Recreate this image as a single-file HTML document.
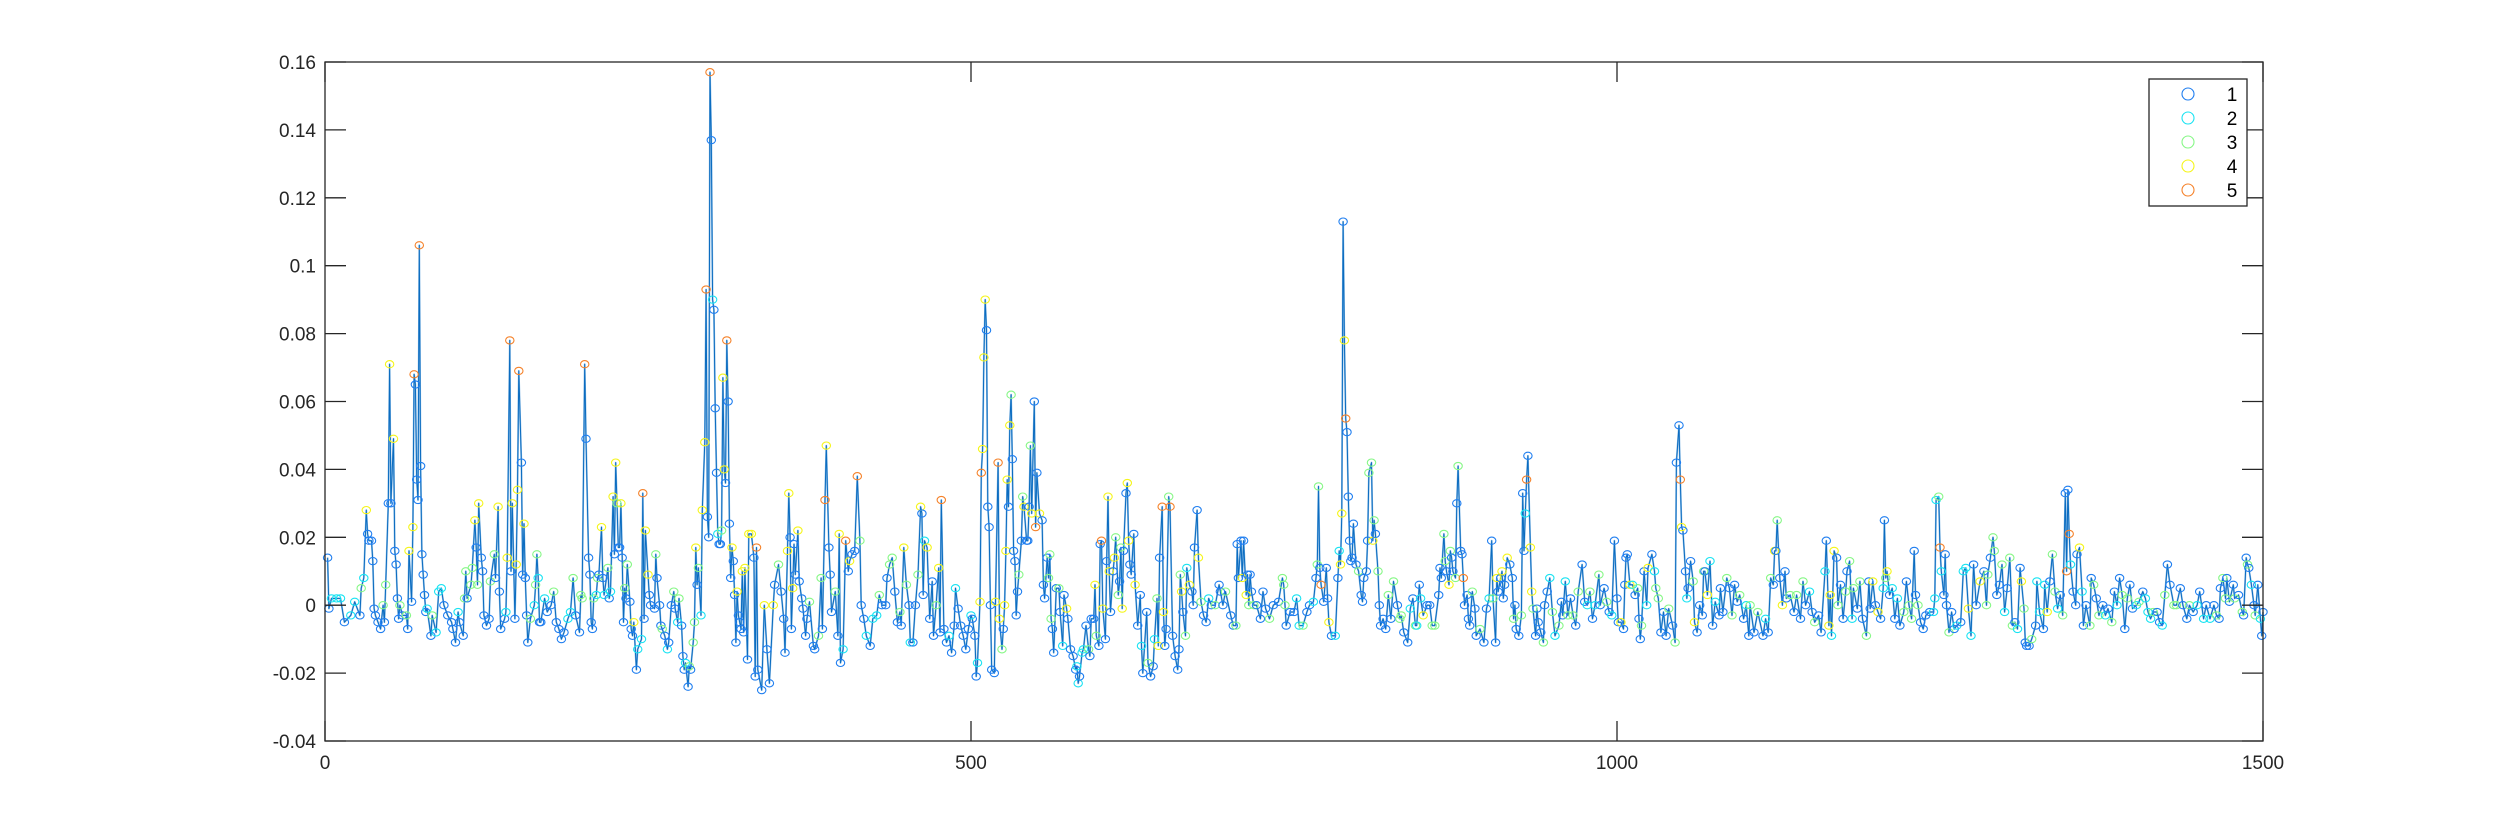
<!DOCTYPE html>
<html><head><meta charset="utf-8">
<style>
html,body{margin:0;padding:0;background:#fff;}
svg{display:block;font-family:"Liberation Sans",sans-serif;}
</style></head>
<body>
<svg id="chart" width="2500" height="833" viewBox="0 0 2500 833" xmlns="http://www.w3.org/2000/svg">
<rect x="0" y="0" width="2500" height="833" fill="#fff"/>
<g id="series"></g>
<g id="axes"></g>
<g id="legend"></g>
</svg>
<script>
const xTickValues = [0, 500, 1000, 1500];
const xTickLabels = ["0", "500", "1000", "1500"];
const yTickValues = [-0.04, -0.02, 0, 0.02, 0.04, 0.06, 0.08, 0.1, 0.12, 0.14, 0.16];
const yTickLabels = ["-0.04", "-0.02", "0", "0.02", "0.04", "0.06", "0.08", "0.1", "0.12", "0.14", "0.16"];
const legendLabels = ["1", "2", "3", "4", "5"];

const sampleIndex = [
2,3,5,9,12,15,20,23,27,28,30,32,33,34,36,37,38,39,41,43,45,46,47,49,50,51,53,54,55,56,57,58,60,63,64,65,67,68,69,70,71,72,73,74,75,76,77,78,79,82,83,86,88,90,92,95,98,99,101,103,104,107,108,109,110,113,114,116,117,118,119,121,122,123,125,127,128,131,132,134,135,136,139,140,141,143,144,145,147,148,149,150,152,153,154,155,156,157,159,162,163,164,165,166,167,170,172,175,177,179,181,183,185,188,190,192,194,197,198,199,201,202,204,205,206,207,208,210,211,212,214,215,216,219,220,221,223,224,225,226,227,228,229,230,231,232,233,234,236,237,238,239,241,242,245,246,247,248,250,251,252,255,256,257,259,260,261,263,265,266,268,270,271,273,274,276,277,278,279,281,282,283,285,286,287,288,289,291,292,294,295,296,297,298,299,300,301,302,303,304,305,306,307,308,309,310,311,312,313,314,315,316,317,318,319,320,321,322,323,324,325,327,328,
330,332,333,334,335,338,340,342,344,347,348,351,353,355,356,358,359,360,361,362,363,364,366,367,369,370,372,373,375,378,379,382,384,385,387,388,390,391,392,395,397,398,399,401,403,405,406,408,410,412,414,415,417,419,422,424,427,429,431,434,435,437,439,441,443,445,446,448,450,452,453,455,457,459,461,462,463,464,466,468,470,471,473,475,476,477,479,481,483,485,487,488,490,492,494,496,498,500,501,503,504,505,507,508,509,510,511,512,513,514,515,516,518,519,521,522,524,525,526,527,528,529,530,531,532,533,534,535,536,537,539,540,541,543,544,545,546,547,549,550,551,553,555,556,557,559,560,561,562,563,564,566,568,569,571,572,574,575,577,579,581,582,583,584,586,587,589,591,592,593,595,596,597,599,600,601,602,604,605,606,607,608,610,611,612,614,615,616,617,618,620,621,622,623,624,626,627,629,631,632,633,636,637,639,641,642,644,645,646,648,649,650,651,653,654,656,658,660,661,662,663,664,666,667,669,671,672,673,675,676,678,680,682,684,686,689,692,693,695,697,701,703,705,706,707,709,710,711,713,714,715,
716,717,719,721,724,726,728,731,734,738,741,742,743,744,747,750,752,754,757,760,762,765,767,768,769,770,771,773,775,776,777,779,782,784,785,786,787,788,789,790,791,792,793,794,795,796,798,800,802,803,804,806,807,808,810,811,812,813,815,816,817,819,821,823,825,827,830,832,833,835,838,840,842,844,845,847,848,850,853,855,857,859,862,863,864,866,867,868,870,871,872,873,875,876,877,879,880,881,882,884,885,886,888,890,891,894,897,899,901,903,904,906,907,908,910,911,912,913,915,917,919,920,921,922,924,926,927,928,929,930,931,933,934,935,937,938,939,941,943,944,946,948,950,952,955,957,958,960,962,964,966,968,970,973,975,977,979,981,983,986,987,990,992,994,996,998,1000,1001,1003,1005,1006,1007,1008,1010,1012,1014,1016,1017,1018,1019,1021,1023,1024,1027,1029,1030,1032,1034,1036,1038,1040,1043,1045,1046,1048,1049,1050,1051,1053,1054,1055,1057,1059,1060,1062,1064,1066,1067,1068,1070,1072,1074,1076,1079,1080,1082,1085,1087,1089,1091,1093,1095,1098,1100,1102,
1103,1106,1109,1113,1115,1117,1119,1121,1122,1123,1124,1126,1128,1130,1131,1134,1137,1139,1142,1144,1146,1149,1151,1153,1156,1158,1161,1162,1164,1165,1166,1168,1170,1171,1173,1175,1177,1178,1180,1182,1183,1186,1188,1190,1193,1195,1196,1198,1200,1202,1204,1206,1207,1208,1209,1211,1213,1215,1217,1219,1222,1224,1226,1228,1230,1231,1233,1235,1237,1239,1242,1245,1246,1247,1249,1250,1251,1253,1254,1255,1257,1259,1261,1263,1266,1268,1270,1272,1274,1276,1278,1281,1284,1286,1287,1289,1291,1292,1294,1296,1298,1300,1302,1304,1306,1308,1310,1312,1313,1315,1316,1317,1319,1321,1324,1325,1327,1330,1331,1333,1335,1337,1339,1341,1343,1345,1347,1348,1349,1350,1351,1353,1355,1356,1358,1360,1361,1363,1366,1367,1369,1371,1373,1376,1378,1380,1383,1385,1387,1389,1391,1393,1395,1397,1399,1402,1404,1407,1409,1411,1413,1415,1418,1420,1422,1424,1426,1428,1431,1433,1436,1438,1441,1443,1446,1449,1451,1454,1456,1459,1462,1464,1466,1467,1469,1471,1472,1474,1477,1478,1481,1484,1485,1487,1488,1489,1491,1493,1494,1496,1498,1499,1500
];
const sampleValue = [
.014,-.001,.002,.002,.002,-.005,-.003,.001,-.003,.005,.008,.028,.021,.019,.019,.013,-.001,-.003,-.005,-.007,0,-.005,.006,.03,.071,.03,.049,.016,.012,.002,-.004,0,-.003,-.003,-.007,.016,.001,.023,.068,.065,.037,.031,.106,.041,.015,.009,.003,-.002,-.001,-.009,-.003,-.008,.004,.005,0,-.003,-.005,-.007,-.011,-.002,-.005,-.009,.002,.01,.002,.006,.011,.025,.017,.006,.03,.014,.01,-.003,-.006,-.004,.007,.015,.008,.029,.004,-.007,-.004,-.002,.014,.078,.01,.03,-.004,.012,.034,.069,.042,.009,.024,.008,-.003,-.011,-.004,0,.006,.015,.008,-.005,-.005,.002,-.002,0,.004,-.005,-.007,-.01,-.008,-.004,-.002,.008,-.003,-.008,.003,.002,.071,.049,.014,.009,-.005,-.007,.002,.003,.008,.009,.023,.008,.003,.011,.002,.004,.032,.015,.042,.03,.017,.017,.03,.014,-.005,.005,.002,.012,.001,-.007,-.009,-.005,-.019,-.013,-.01,.033,-.004,.022,.009,.003,0,-.001,.015,.008,0,-.006,-.007,-.009,-.013,-.011,0,.004,-.001,-.005,.002,-.006,-.015,-.019,-.017,-.024,-.018,-.019,-.011,-.005,.017,.006,.011,-.003,.028,.048,.093,.026,.02,.157,.137,.09,.087,.058,.039,.021,.018,.018,.022,.067,.04,.036,.078,.06,.024,.008,.017,.013,.003,-.011,.004,-.003,-.005,-.007,.01,-.008,.011,-.016,.021,
.021,.014,-.021,.017,-.019,-.025,0,-.013,-.023,0,.006,.012,.004,-.004,-.014,.016,.033,.02,-.007,.005,.018,.009,.022,.007,.002,-.001,-.009,-.004,.001,-.012,-.013,-.009,.008,-.007,.031,.047,.017,.009,-.002,.004,-.009,.021,-.017,-.013,.019,.01,.013,.015,.016,.038,.019,0,-.004,-.009,-.012,-.004,-.003,.003,0,0,.008,.012,.014,.004,-.005,-.002,-.006,.017,.006,0,-.011,-.011,0,.009,.029,.027,.003,.019,.017,-.004,.007,-.009,0,.011,-.008,.031,-.007,-.011,-.009,-.014,-.006,.005,-.001,-.006,-.009,-.013,-.007,-.003,-.004,-.009,-.021,-.017,.001,.039,.046,.073,.09,.081,.029,.023,0,-.019,-.02,.001,.042,-.004,-.013,-.007,0,.016,.037,.029,.053,.062,.043,.016,.013,-.003,.004,.009,.019,.032,.029,.019,.019,.029,.047,.027,.06,.023,.039,.027,.025,.006,.002,.014,.008,.015,-.004,-.007,-.014,.005,.005,-.002,-.012,.003,-.001,-.004,-.013,-.015,-.019,-.018,-.023,-.021,-.014,-.013,-.006,-.013,-.015,-.004,-.004,.006,-.009,-.012,.018,.019,-.001,-.01,.013,.032,.01,-.002,.01,.014,.02,.003,.007,.017,-.001,.016,.033,.036,.019,.012,.009,.021,.006,-.006,.003,-.012,-.02,-.002,-.017,-.021,-.018,-.01,.002,-.012,.014,.029,-.002,-.012,-.007,.032,.029,-.009,-.015,-.019,-.013,.009,.004,-.002,-.009,.011,.006,.004,0,.017,.028,.014,.001,-.003,-.005,.002,0,0,.006,.004,0,.004,-.003,-.006,-.006,.018,.008,.019,.008,.019,.003,.009,0,
.009,.004,0,0,-.004,.004,-.001,-.004,0,.001,.008,.006,0,-.006,-.002,-.002,.002,-.006,-.006,-.002,0,.001,.008,.012,.035,.011,.006,.001,.011,.002,-.005,-.009,-.009,.008,.016,.012,.027,.113,.078,.055,.051,.032,.019,.013,.014,.024,.012,.01,.003,.001,.008,.01,.019,.039,.042,.019,.025,.021,.01,0,-.006,-.004,-.007,.003,-.004,.007,0,-.004,-.003,-.008,-.011,-.001,.002,-.006,-.006,.006,.002,-.003,0,0,-.006,-.006,.003,.011,.008,.021,.013,.01,.006,.016,.014,.01,.008,.03,.041,.016,.015,.008,0,.003,-.004,-.006,.004,-.001,-.009,-.007,-.011,-.001,.002,.019,.002,-.011,.008,.004,.008,.01,.002,.006,.014,.012,.008,-.004,0,-.007,-.009,-.003,.033,.016,.027,.037,.044,.017,.004,-.001,-.009,-.001,-.005,-.008,-.011,0,.004,.008,-.002,-.009,-.006,.001,-.003,.007,-.003,.002,-.003,-.006,.004,.012,.001,0,.004,-.004,0,.009,0,.005,.001,-.002,-.003,.019,.002,-.005,-.005,-.007,.006,.014,.015,.006,.006,.003,.005,-.004,-.01,-.006,.01,0,.011,.015,.01,.005,.002,-.008,-.002,-.009,-.001,-.006,-.011,.042,.053,.037,.023,.022,.01,.002,.005,.013,.007,-.005,-.008,0,-.003,.01,.01,.003,.013,-.006,.001,-.003,.005,-.002,.008,.005,-.003,.006,.001,.003,-.004,0,-.009,
0,-.008,-.002,-.009,-.004,-.008,.008,.006,.016,.016,.025,.008,0,.01,.002,.003,-.002,.003,-.004,.007,0,.004,-.002,-.005,-.003,-.008,.01,.019,-.006,.003,-.009,.016,.014,0,.006,-.004,.004,.01,.013,-.004,.005,-.001,.007,-.004,-.009,.007,-.001,.007,0,-.002,-.004,.005,.025,.008,.01,.003,.005,-.004,.002,-.006,-.002,.007,0,-.004,.016,.003,0,-.005,-.007,-.003,-.002,-.002,.002,.031,.032,.017,.01,.003,.015,0,-.008,-.002,-.007,-.006,-.005,.01,.011,-.001,-.009,.012,0,.007,.01,0,.009,.014,.02,.016,.003,.006,.012,-.002,.005,.014,-.006,-.005,-.007,.011,.007,-.001,-.011,-.012,-.012,-.01,-.006,.007,-.002,-.007,.006,-.002,.007,.015,.004,-.001,.003,-.003,.033,.01,.034,.021,.012,.004,0,.015,.017,.004,-.006,0,-.006,.008,.006,.002,-.003,0,-.003,-.001,-.005,.004,0,.008,.003,-.007,.002,.006,-.001,0,.001,.004,.002,-.002,-.004,-.002,-.002,-.005,-.006,.003,.012,.006,0,0,.005,0,-.004,0,-.002,0,.004,-.004,0,-.004,0,-.003,-.004,.005,.008,.002,.008,.001,.006,.002,.003,-.002,-.003,.014,.012,.011,.006,0,-.003,.006,-.004,-.009,-.002,-.002
];
const sampleCluster = [
1,1,2,2,2,1,2,2,1,3,2,4,1,1,1,1,1,1,1,1,3,1,3,1,4,1,4,1,1,1,1,3,1,3,1,4,1,4,5,1,1,1,5,1,1,1,1,1,2,1,3,2,2,2,1,1,1,1,1,2,1,1,3,3,1,3,3,4,1,3,4,1,1,1,1,1,3,3,1,4,1,1,1,2,4,5,1,4,1,4,4,5,1,1,4,1,1,1,3,2,3,3,2,1,1,2,1,1,3,1,1,1,1,2,2,3,1,1,3,3,5,1,1,1,1,1,3,2,3,1,4,1,2,3,1,2,4,1,4,3,1,1,4,1,1,3,1,3,1,1,1,4,1,2,2,5,1,4,4,1,1,1,3,1,1,1,3,1,2,1,1,3,1,2,3,1,1,1,2,1,3,1,3,3,4,1,3,2,4,4,5,1,1,5,1,2,1,1,1,2,1,1,3,4,4,1,5,1,1,1,4,1,1,1,4,1,1,1,4,1,4,1,4,
4,1,1,5,1,1,4,1,1,4,1,3,1,1,1,4,4,1,1,4,1,1,4,1,1,1,1,1,3,1,1,3,3,1,5,4,1,1,1,3,1,4,1,2,5,1,4,1,1,5,3,1,1,2,1,2,2,3,1,1,1,3,3,1,1,3,1,4,3,1,2,1,1,3,4,1,1,2,4,1,1,1,3,4,1,5,1,1,2,1,1,2,1,1,1,1,1,2,1,1,1,2,4,5,4,4,4,1,1,1,1,1,1,4,5,4,3,1,4,4,4,1,4,3,1,1,1,1,1,3,1,3,4,1,1,1,3,4,1,5,1,4,1,1,1,1,3,3,3,1,1,1,3,1,2,1,4,1,1,1,1,2,2,1,2,2,1,3,1,1,1,4,3,1,1,5,4,1,1,4,4,1,1,4,3,3,1,3,4,1,1,4,4,1,1,1,4,1,1,2,1,1,3,1,1,2,3,4,1,5,4,1,1,3,5,1,1,1,1,3,4,1,3,2,4,1,1,1,1,4,3,1,1,2,1,3,1,1,1,3,1,1,3,1,1,1,4,1,4,1,3,1,1,
3,1,1,1,1,3,1,1,3,3,3,1,1,1,2,2,3,1,1,2,1,3,3,1,5,1,1,1,4,1,2,1,2,4,4,1,4,5,1,1,1,1,1,1,1,3,1,1,1,1,1,3,3,4,3,1,3,1,1,1,1,3,1,3,1,3,3,1,1,2,1,3,2,1,2,4,1,1,3,3,1,1,1,3,3,1,4,3,1,1,3,1,3,1,1,5,1,1,1,1,3,1,1,3,1,1,2,1,3,1,4,1,1,4,1,1,4,1,1,3,1,1,1,3,1,1,2,5,1,4,4,3,1,1,1,1,3,1,1,2,3,2,3,1,1,2,3,1,3,1,3,1,1,2,3,1,2,3,1,1,3,1,2,1,1,1,4,1,1,1,1,4,2,1,3,1,1,3,1,2,4,1,2,3,3,1,1,1,3,1,3,1,1,5,4,1,1,2,1,1,3,4,1,1,1,3,1,4,2,1,2,1,1,1,3,1,3,1,1,3,1,2,1,3,1,
3,1,2,1,3,1,4,1,3,1,4,1,1,3,1,3,1,3,1,2,1,3,1,1,2,1,4,4,2,4,1,3,1,1,3,1,3,2,3,1,3,1,3,1,1,4,1,4,1,2,1,3,4,1,2,1,2,1,3,1,3,3,1,1,3,1,1,1,1,2,2,2,3,5,2,1,1,1,3,1,1,2,1,2,2,4,2,1,1,4,1,3,3,1,3,3,1,1,3,2,1,3,3,1,2,1,4,3,1,1,1,3,1,2,2,1,2,4,1,3,3,2,1,3,1,5,1,5,2,1,1,1,4,2,1,1,3,1,3,1,3,1,2,1,3,1,2,1,3,1,3,1,1,2,3,1,2,2,2,3,1,1,2,3,1,1,3,3,1,1,1,3,1,2,1,2,1,2,1,3,1,1,3,3,1,1,1,3,1,3,1,1,3,1,2,1,3,1,2,1
];

const PLOT = {left: 325, right: 2263, top: 62, bottom: 741};
const X_MIN = 0, X_MAX = 1500, Y_MIN = -0.04, Y_MAX = 0.16;
const clusterColors = ["#1f7ef0", "#19e3f2", "#86f786", "#f5f51a", "#f5822a"];
const SVGNS = "http://www.w3.org/2000/svg";

function xScale(v) { return PLOT.left + (v - X_MIN) / (X_MAX - X_MIN) * (PLOT.right - PLOT.left); }
function yScale(v) { return PLOT.bottom - (v - Y_MIN) / (Y_MAX - Y_MIN) * (PLOT.bottom - PLOT.top); }
function mk(tag, attrs) {
  const el = document.createElementNS(SVGNS, tag);
  for (const k in attrs) el.setAttribute(k, attrs[k]);
  return el;
}

const series = document.getElementById("series");
const axes = document.getElementById("axes");
const legend = document.getElementById("legend");

const n = Math.min(sampleIndex.length, sampleValue.length);
let d = "";
for (let i = 0; i < n; i++) {
  d += (i ? "L" : "M") + xScale(sampleIndex[i]).toFixed(1) + " " + yScale(sampleValue[i]).toFixed(1);
}
const shadow = mk("path", {d: d, fill: "none", stroke: "#8dbde6", "stroke-width": 1.8, "stroke-linejoin": "round"});


series.appendChild(shadow);
const line = mk("path", {d: d, fill: "none", stroke: "#0b6cc0", "stroke-width": 1, "stroke-linejoin": "round"});


series.appendChild(line);

for (let i = 0; i < n; i++) {
  const c = (sampleCluster[i] || 1) - 1;
  const m = mk("ellipse", {cx: xScale(sampleIndex[i]).toFixed(1), cy: yScale(sampleValue[i]).toFixed(1), rx: 4.2, ry: 3.6, fill: "none", stroke: clusterColors[c], "stroke-width": 1.1});
  
  
  series.appendChild(m);
}

const box = mk("rect", {x: PLOT.left, y: PLOT.top, width: PLOT.right - PLOT.left, height: PLOT.bottom - PLOT.top, fill: "none", stroke: "#262626", "stroke-width": 1.3});


axes.appendChild(box);

for (let i = 0; i < yTickValues.length; i++) {
  const y = yScale(yTickValues[i]);
  const t1 = mk("line", {x1: PLOT.left, x2: PLOT.left + 21, y1: y, y2: y, stroke: "#262626", "stroke-width": 1.3});
  
  
  axes.appendChild(t1);
  const t2 = mk("line", {x1: PLOT.right - 21, x2: PLOT.right, y1: y, y2: y, stroke: "#262626", "stroke-width": 1.3});
  
  
  axes.appendChild(t2);
  const lb = mk("text", {x: 316, y: y + 7, "text-anchor": "end", "font-size": 19, fill: "#262626"});
  lb.textContent = yTickLabels[i];
  
  
  axes.appendChild(lb);
}
for (let i = 0; i < xTickValues.length; i++) {
  const x = xScale(xTickValues[i]);
  const t1 = mk("line", {x1: x, x2: x, y1: PLOT.bottom, y2: PLOT.bottom - 20, stroke: "#262626", "stroke-width": 1.3});
  
  
  axes.appendChild(t1);
  const t2 = mk("line", {x1: x, x2: x, y1: PLOT.top, y2: PLOT.top + 20, stroke: "#262626", "stroke-width": 1.3});
  
  
  axes.appendChild(t2);
  const lb = mk("text", {x: x, y: 769, "text-anchor": "middle", "font-size": 19, fill: "#262626"});
  lb.textContent = xTickLabels[i];
  
  
  axes.appendChild(lb);
}

const lbox = mk("rect", {x: 2149, y: 79, width: 98, height: 127, fill: "#fff", stroke: "#262626", "stroke-width": 1.3});


legend.appendChild(lbox);
for (let i = 0; i < legendLabels.length; i++) {
  const y = 94 + i * 24;
  const g = mk("g", {});
  
  
  const c = mk("circle", {cx: 2188, cy: y, r: 6, fill: "none", stroke: clusterColors[i], "stroke-width": 1.1});
  
  
  g.appendChild(c);
  const t = mk("text", {x: 2232, y: y + 7, "text-anchor": "middle", "font-size": 19, fill: "#000"});
  t.textContent = legendLabels[i];
  
  
  g.appendChild(t);
  legend.appendChild(g);
}
</script>
</body></html>
